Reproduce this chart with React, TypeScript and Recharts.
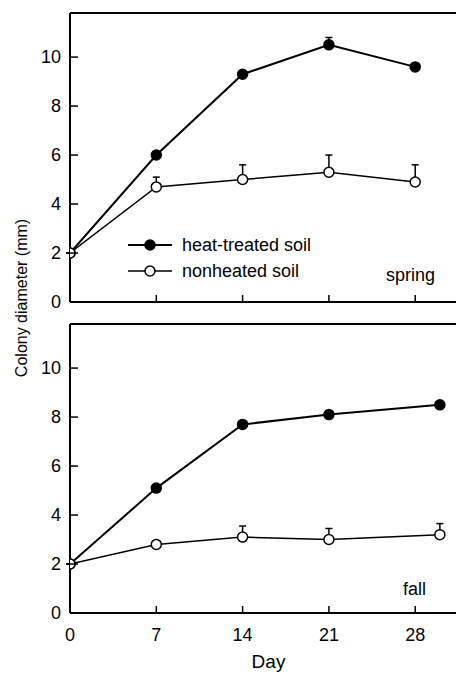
import React from 'react';
import { LineChart, Line, XAxis, YAxis, ErrorBar, Legend } from 'recharts';

const springDays = [0, 7, 14, 21, 28];
const springHeated = [2.0, 6.0, 9.3, 10.5, 9.6];
const springHeatedErr = [0, 0, 0, 0.3, 0];
const springNonheated = [2.0, 4.7, 5.0, 5.3, 4.9];
const springNonheatedErr = [0, 0.4, 0.6, 0.7, 0.7];

const fallDays = [0, 7, 14, 21, 30];
const fallHeated = [2.0, 5.1, 7.7, 8.1, 8.5];
const fallHeatedErr = [0, 0, 0, 0, 0];
const fallNonheated = [2.0, 2.8, 3.1, 3.0, 3.2];
const fallNonheatedErr = [0, 0, 0.45, 0.45, 0.45];

const dayTicks = [0, 7, 14, 21, 28];
const yTicks = [0, 2, 4, 6, 8, 10];
const seriesNames = ['heat-treated soil', 'nonheated soil'];
const panelLabels = ['spring', 'fall'];
const xLabel = 'Day';
const yLabel = 'Colony diameter (mm)';

const FONT = '"Liberation Sans", Arial, Helvetica, sans-serif';

const build = (days: number[], h: number[], he: number[], n: number[], ne: number[]) =>
  days.map((d, i) => ({ day: d, heated: h[i], heatedErr: he[i], nonheated: n[i], nonheatedErr: ne[i] }));

const springData = build(springDays, springHeated, springHeatedErr, springNonheated, springNonheatedErr);
const fallData = build(fallDays, fallHeated, fallHeatedErr, fallNonheated, fallNonheatedErr);

const X_DOMAIN: [number, number] = [0, 32.2];
const Y_DOMAIN: [number, number] = [0, 11.8];

const TICK_LEN = 7;
const LEFT_GAP = 9;
const BOTTOM_GAP = 15;

const renderLegend = (props: any) => {
  const items = (props.payload || []).filter((p: any) => p.type !== 'none');
  return (
    <div style={{ fontFamily: FONT, fontSize: 18, color: '#000' }}>
      {items.map((p: any, i: number) => (
        <div key={i} style={{ display: 'flex', alignItems: 'center', height: 26 }}>
          <svg width={46} height={26}>
            <line x1={0} x2={44} y1={13} y2={13} stroke="#000" strokeWidth={i === 0 ? 2 : 1.5} />
            <circle cx={22} cy={13} r={5} fill={i === 0 ? '#000' : '#fff'} stroke="#000" strokeWidth={1.5} />
          </svg>
          <span style={{ marginLeft: 8, lineHeight: '26px' }}>{p.value}</span>
        </div>
      ))}
    </div>
  );
};

// tick renderers: inward tick mark plus optional label
const LeftTick = (props: any) => {
  const { x, y, payload } = props;
  return (
    <g>
      <line x1={x + LEFT_GAP} x2={x + LEFT_GAP + TICK_LEN + 1} y1={y} y2={y} stroke="#000" strokeWidth={1.5} />
      <text x={x} y={y} dy="0.355em" textAnchor="end" fontSize={18} fontFamily={FONT} fill="#000">{payload.value}</text>
    </g>
  );
};
const RightTick = (props: any) => {
  const { x, y } = props;
  return <line x1={x - TICK_LEN - 1} x2={x} y1={y} y2={y} stroke="#000" strokeWidth={1.5} />;
};
const TopTick = (props: any) => {
  const { x, y } = props;
  return <line x1={x} x2={x} y1={y} y2={y + TICK_LEN} stroke="#000" strokeWidth={1.5} />;
};
const BottomTick = (withLabel: boolean) => (props: any) => {
  const { x, y, payload } = props;
  return (
    <g>
      <line x1={x} x2={x} y1={y - BOTTOM_GAP} y2={y - BOTTOM_GAP - TICK_LEN} stroke="#000" strokeWidth={1.5} />
      {withLabel && (
        <text x={x} y={y} dy="0.71em" textAnchor="middle" fontSize={18} fontFamily={FONT} fill="#000">{payload.value}</text>
      )}
    </g>
  );
};
const BottomTickLabeled = BottomTick(true);
const BottomTickPlain = BottomTick(false);

const axisLine = { stroke: '#000', strokeWidth: 2 };

function Panel({ data, height, margin, bottomLabels, legend }: any) {
  const xCommon = { type: 'number' as const, domain: X_DOMAIN, ticks: dayTicks, allowDataOverflow: true, interval: 0 as const };
  const yCommon = { type: 'number' as const, domain: Y_DOMAIN, ticks: yTicks, allowDataOverflow: true, interval: 0 as const };
  return (
    <LineChart width={470} height={height} data={data} margin={margin}>
      <XAxis
        dataKey="day"
        {...xCommon}
        height={bottomLabels ? 60 : 1}
        axisLine={axisLine}
        tickLine={false}
        tickSize={0}
        tickMargin={BOTTOM_GAP}
        tick={bottomLabels ? BottomTickLabeled : BottomTickPlain}
        label={bottomLabels ? { value: xLabel, position: 'insideBottom', offset: 5, fill: '#000', fontSize: 19, fontFamily: FONT } : undefined}
      />
      <XAxis xAxisId="top" orientation="top" {...xCommon} height={1} axisLine={axisLine} tickLine={false} tickSize={0} tickMargin={0} tick={TopTick} />
      <YAxis {...yCommon} width={62} axisLine={axisLine} tickLine={false} tickSize={0} tickMargin={LEFT_GAP} tick={LeftTick} />
      <YAxis yAxisId="right" orientation="right" {...yCommon} width={1} axisLine={axisLine} tickLine={false} tickSize={0} tickMargin={0} tick={RightTick} />

      <Line dataKey="heated" stroke="none" dot={false} activeDot={false} legendType="none" isAnimationActive={false}>
        <ErrorBar dataKey={(d: any) => [0, d.heatedErr]} width={3.5} stroke="#000" strokeWidth={1.5} direction="y" />
      </Line>
      <Line dataKey="nonheated" stroke="none" dot={false} activeDot={false} legendType="none" isAnimationActive={false}>
        <ErrorBar dataKey={(d: any) => [0, d.nonheatedErr]} width={3.5} stroke="#000" strokeWidth={1.5} direction="y" />
      </Line>
      <Line
        dataKey="heated"
        name={seriesNames[0]}
        stroke="#000"
        strokeWidth={2}
        dot={{ r: 5, fill: '#000', stroke: '#000', strokeWidth: 1.5 }}
        activeDot={false}
        isAnimationActive={false}
      />
      <Line
        dataKey="nonheated"
        name={seriesNames[1]}
        stroke="#000"
        strokeWidth={1.5}
        dot={{ r: 5, fill: '#fff', stroke: '#000', strokeWidth: 1.5 }}
        activeDot={false}
        isAnimationActive={false}
      />
      {legend && (
        <Legend
          layout="vertical"
          align="center"
          verticalAlign="middle"
          content={renderLegend}
          wrapperStyle={{ left: 120, top: 224, width: 'auto', height: 'auto' }}
        />
      )}
    </LineChart>
  );
}

export default function App() {
  return (
    <div style={{ position: 'relative', width: 456, height: 672, overflow: 'hidden', background: '#fff' }}>
      <div style={{ position: 'absolute', left: 0, top: 0 }}>
        <Panel data={springData} height={312} margin={{ top: 4, right: 10, left: 0, bottom: 17 }} bottomLabels={false} legend />
      </div>
      <div style={{ position: 'absolute', left: 0, top: 300 }}>
        <Panel data={fallData} height={365} margin={{ top: 15, right: 10, left: 0, bottom: 0 }} bottomLabels legend={false} />
      </div>
      <svg
        width={456}
        height={672}
        style={{ position: 'absolute', left: 0, top: 0, pointerEvents: 'none' }}
        fontFamily={FONT}
      >
        <text x={378} y={273} fontSize={18} fill="#000">{panelLabels[0]}</text>
        <text x={395} y={587} fontSize={18} fill="#000">{panelLabels[1]}</text>
        <text transform="translate(18.5, 290) rotate(-90)" textAnchor="middle" fontSize={16} fill="#000">{yLabel}</text>
      </svg>
    </div>
  );
}
